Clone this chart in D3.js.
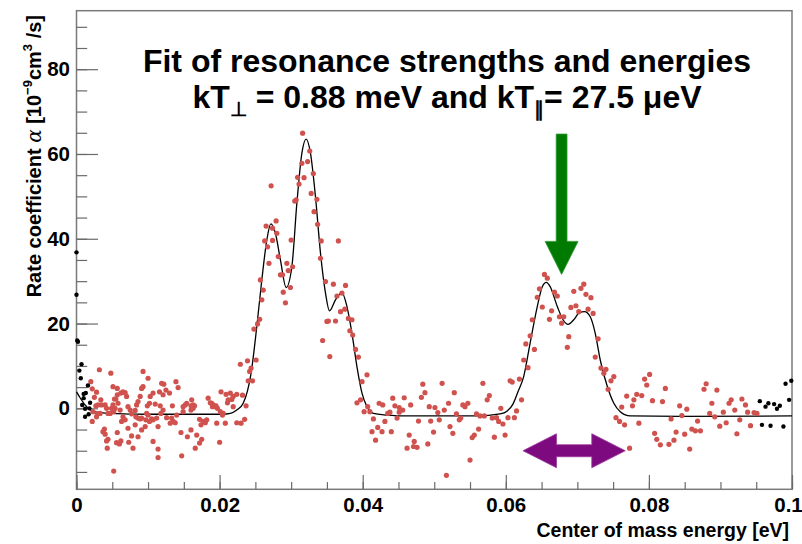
<!DOCTYPE html>
<html><head><meta charset="utf-8">
<script src="https://cdn.jsdelivr.net/npm/d3@7/dist/d3.min.js"></script>
<style>
html,body{margin:0;padding:0;background:#fff;}
svg{display:block;}
text{font-family:"Liberation Sans",Arial,Helvetica,sans-serif;font-weight:bold;fill:#000;}
</style></head>
<body>
<script>
// ---------- data ----------
const xTickValues = [0, 0.02, 0.04, 0.06, 0.08, 0.1];
const xTickLabels = ["0", "0.02", "0.04", "0.06", "0.08", "0.1"];
const yTickValues = [0, 20, 40, 60, 80];
const yTickLabels = ["0", "20", "40", "60", "80"];
const xDomain = [0, 0.1];
const yDomain = [-19.1, 93.8];

const titleLine1 = "Fit of resonance strengths and energies";
const xTitle = "Center of mass energy [eV]";

// fit curve (energy [eV], rate coefficient)
const fitE = [0.0000,0.0005,0.0012,0.0024,0.0047,0.0103,0.0173,0.0204,0.0215,0.0224,0.0233,0.0244,0.0252,0.0259,0.0266,0.02716,0.0278,0.0285,0.0293,0.0301,0.0308,0.0315,0.0321,0.0327,0.0334,0.0341,0.0348,0.03536,0.0362,0.0371,0.0378,0.0385,0.0392,0.0399,0.0406,0.0415,0.0434,0.0452,0.0560,0.0592,0.0602,0.0610,0.0617,0.0625,0.0634,0.0644,0.0651,0.06566,0.0662,0.0672,0.0680,0.0687,0.0695,0.0703,0.0710,0.0718,0.0725,0.0732,0.0742,0.0751,0.0760,0.0774,0.0844,0.1000];
const fitA = [3.9,2.5,0.8,-0.8,-1.2,-1.4,-1.4,-1.4,-1.2,-0.4,1.2,8.3,19.3,30.3,39.7,43.5,41.3,35.0,28.5,33.4,48.4,60.2,63.5,60.2,49.9,36.6,27.2,23.0,25.6,27.3,24.0,17.7,9.8,3.6,0.4,-1.2,-1.6,-1.8,-1.8,-1.3,-0.6,1.0,3.9,7.5,15.4,24.0,28.7,29.7,28.7,24.0,20.9,19.8,20.9,22.6,22.8,21.6,17.7,11.4,5.1,1.2,-0.8,-1.8,-1.9,-1.8];

// measured points outside the fit range (black)
const blackE = [0.0000,0.0000,0.0001,0.0002,0.0007,0.0004,0.0006,0.0016,0.0013,0.0010,0.0008,0.0019,0.0012,0.0018,0.0012,0.0017,0.0010,0.0955,0.0963,0.0967,0.0975,0.0983,0.0979,0.0958,0.0970,0.0988,0.0996,0.0991,0.0999];
const blackA = [36.8,26.8,16.0,15.7,10.4,8.9,7.1,5.4,3.6,2.4,0.8,1.3,-0.1,0.0,-2.0,-1.4,3.4,1.7,0.4,1.2,1.0,0.6,-0.1,-3.9,-4.1,-4.3,2.0,5.8,6.5];

// measured points used in fit (red): [energy, rate]
const redPoints = [
[0.0020,6.3],[0.0032,9.1],[0.0022,4.6],[0.0028,3.8],[0.0025,2.6],[0.0027,0.6],[0.0030,0.8],[0.0023,-0.8],[0.0029,-1.3],[0.0033,-1.2],[0.0022,-3.1],[0.0028,-2.0],[0.0035,0.8],[0.0034,2.0],[0.0037,-5.5],[0.0039,-4.9],[0.0040,-6.1],[0.0044,-7.3],[0.0042,-7.7],[0.0043,-9.4],[0.0052,-14.8],[0.0040,0.8],[0.0042,0.0],[0.0044,-1.2],[0.0047,-1.2],[0.0049,0.0],[0.0051,0.8],[0.0048,8.3],[0.0051,5.1],[0.0053,2.2],[0.0055,2.2],[0.0057,4.7],[0.0057,3.2],[0.0058,1.2],[0.0061,-0.4],[0.0054,0.0],[0.0052,-0.8],[0.0057,-5.7],[0.0056,-8.1],[0.0062,-7.7],[0.0060,-8.4],[0.0062,3.6],[0.0065,3.9],[0.0068,3.7],[0.0070,2.8],[0.0068,-2.7],[0.0065,-2.0],[0.0063,-3.1],[0.0072,-4.7],[0.0073,-8.0],[0.0077,-6.5],[0.0079,-9.4],[0.0072,0.4],[0.0075,-0.4],[0.0077,-1.3],[0.0082,-3.9],[0.0082,-0.5],[0.0084,0.8],[0.0086,1.6],[0.0089,2.8],[0.0091,4.7],[0.0093,5.1],[0.0093,8.7],[0.0083,-2.0],[0.0086,-2.3],[0.0091,-2.3],[0.0089,-2.5],[0.0096,-4.3],[0.0091,-5.1],[0.0086,-6.7],[0.0100,7.1],[0.0098,-1.2],[0.0097,-2.7],[0.0099,0.6],[0.0100,-1.6],[0.0102,1.2],[0.0102,-3.1],[0.0103,2.8],[0.0105,-2.5],[0.0107,3.6],[0.0107,-2.7],[0.0107,-7.8],[0.0110,1.0],[0.0112,-2.3],[0.0114,-4.3],[0.0114,-9.6],[0.0114,-11.6],[0.0116,3.9],[0.0117,0.6],[0.0118,-1.2],[0.0119,5.9],[0.0121,-0.4],[0.0121,3.2],[0.0122,5.7],[0.0125,4.3],[0.0126,-2.2],[0.0130,3.6],[0.0131,-3.5],[0.0133,-2.3],[0.0134,0.6],[0.0135,-3.1],[0.0138,-3.4],[0.0139,6.3],[0.0140,-1.6],[0.0142,4.9],[0.0146,-5.7],[0.0147,-11.2],[0.0149,-0.8],[0.0149,0.4],[0.0152,0.8],[0.0154,1.2],[0.0155,-6.7],[0.0160,-0.4],[0.0160,-5.1],[0.0160,0.6],[0.0161,2.0],[0.0163,0.0],[0.0163,0.8],[0.0165,0.6],[0.0166,-9.4],[0.0168,-6.3],[0.0172,-8.2],[0.0172,-2.6],[0.0174,-3.9],[0.0175,-7.3],[0.0177,-3.1],[0.0180,-3.4],[0.0182,-2.7],[0.0184,2.4],[0.0187,1.3],[0.0189,1.2],[0.0190,0.4],[0.0191,0.8],[0.0194,0.4],[0.0195,0.6],[0.0196,-3.5],[0.0197,0.0],[0.0200,-8.0],[0.0201,-0.8],[0.0202,3.9],[0.0204,-1.6],[0.0205,-1.2],[0.0208,-3.5],[0.0209,3.3],[0.0211,1.3],[0.0212,2.0],
[0.0316,64.9],[0.0326,60.7],[0.0323,58.2],[0.0315,57.8],[0.0309,54.5],[0.0318,54.4],[0.0331,55.4],[0.0311,52.9],[0.0272,52.5],[0.0328,50.7],[0.0336,49.3],[0.0307,49.2],[0.0305,48.9],[0.0332,46.4],[0.0337,43.4],[0.0279,44.2],[0.0265,43.0],[0.0274,42.5],[0.0280,41.3],[0.0263,39.5],[0.0267,38.1],[0.0274,39.6],[0.0300,39.7],[0.0366,39.5],[0.0342,39.5],[0.0282,35.8],[0.0269,34.2],[0.0294,34.2],[0.0302,33.4],[0.0296,32.5],[0.0341,35.4],[0.0285,31.5],[0.0288,31.5],[0.0257,30.3],[0.0348,29.9],[0.0359,29.3],[0.0376,29.0],[0.0299,28.5],[0.0261,27.9],[0.0289,27.4],[0.0364,26.5],[0.0259,25.6],[0.0292,24.9],[0.0371,27.2],[0.0375,23.4],[0.0369,22.8],[0.0256,21.0],[0.0253,19.9],[0.0248,18.7],[0.0380,21.2],[0.0385,20.9],[0.0350,20.5],[0.0352,20.6],[0.0362,20.6],[0.0382,18.3],[0.0386,17.3],[0.0344,16.0],[0.0390,13.9],[0.0394,12.1],[0.0354,12.2],[0.0251,11.4],[0.0239,11.2],[0.0229,10.4],[0.0244,9.5],[0.0242,8.7],[0.0240,6.5],[0.0246,6.5],[0.0215,3.6],[0.0224,3.3],[0.0232,3.1],[0.0219,2.8],[0.0217,2.1],[0.0392,1.3],[0.0219,0.4],[0.0237,0.6],[0.0224,-3.4],[0.0230,-3.5],[0.0235,-2.6],
[0.0406,7.9],[0.0399,6.3],[0.0484,5.7],[0.0511,5.9],[0.0487,3.7],[0.0528,3.7],[0.0442,2.4],[0.0458,2.5],[0.0482,2.6],[0.0423,1.2],[0.0428,0.8],[0.0445,0.6],[0.0467,0.8],[0.0520,1.2],[0.0547,1.2],[0.0540,0.8],[0.0543,0.4],[0.0407,0.4],[0.0397,2.0],[0.0402,-0.8],[0.0410,-0.8],[0.0435,-1.2],[0.0438,-0.9],[0.0451,-0.9],[0.0456,-0.4],[0.0451,0.2],[0.0493,0.4],[0.0501,0.2],[0.0505,-1.0],[0.0514,-0.4],[0.0531,-1.3],[0.0559,-1.3],[0.0415,-2.5],[0.0431,-3.1],[0.0448,-2.3],[0.0478,-3.0],[0.0495,-3.0],[0.0507,-2.7],[0.0535,-2.7],[0.0537,-2.3],[0.0421,-4.5],[0.0413,-5.5],[0.0427,-5.5],[0.0440,-5.5],[0.0499,-5.6],[0.0522,-4.3],[0.0526,-5.9],[0.0562,-4.9],[0.0556,-6.3],[0.0553,-6.9],[0.0418,-7.5],[0.0465,-6.3],[0.0472,-7.8],[0.0462,-9.4],[0.0471,-9.0],[0.0476,-9.2],[0.0491,-8.4],[0.0550,-12.2],[0.0517,-15.8],
[0.0654,31.6],[0.0658,30.7],[0.0647,28.2],[0.0668,27.4],[0.0672,26.5],[0.0644,26.2],[0.0651,23.9],[0.0664,23.0],[0.0661,21.0],[0.0675,21.6],[0.0678,20.1],[0.0681,21.6],[0.0695,27.6],[0.0705,28.3],[0.0709,29.3],[0.0712,26.9],[0.0719,26.1],[0.0691,23.8],[0.0698,24.2],[0.0702,22.8],[0.0715,23.4],[0.0722,22.4],[0.0688,16.9],[0.0686,14.4],[0.0637,20.9],[0.0634,17.1],[0.0640,13.9],[0.0628,15.2],[0.0625,11.4],[0.0631,9.6],[0.0619,6.9],[0.0622,2.0],[0.0606,6.5],[0.0609,6.2],[0.0577,3.0],[0.0574,2.0],[0.0568,5.9],[0.0593,0.0],[0.0615,-0.6],[0.0564,-1.8],[0.0570,-1.8],[0.0581,-2.3],[0.0587,-2.2],[0.0590,-3.1],[0.0596,-3.7],[0.0603,-2.2],[0.0612,-2.2],[0.0584,-6.8],[0.0599,-6.3],[0.0729,16.4],[0.0725,12.1],[0.0733,9.5],[0.0740,9.2],[0.0737,8.3],[0.0751,7.5],[0.0747,6.5],[0.0743,4.5],[0.0769,2.9],[0.0783,3.3],[0.0790,3.0],[0.0779,2.0],[0.0777,0.6],[0.0794,6.9],[0.0801,8.0],[0.0797,5.5],[0.0805,1.8],[0.0762,0.3],[0.0754,-2.2],[0.0759,-3.1],[0.0766,-3.9],[0.0786,-3.5],[0.0808,-5.9],[0.0811,-7.3],[0.0773,-9.4],
[0.0823,4.7],[0.0819,1.6],[0.0880,5.8],[0.0877,4.5],[0.0895,4.3],[0.0888,1.2],[0.0915,2.0],[0.0912,1.2],[0.0930,2.2],[0.0935,0.8],[0.0843,0.6],[0.0853,-0.2],[0.0846,-1.7],[0.0885,-1.2],[0.0892,-2.0],[0.0904,-0.9],[0.0920,-0.4],[0.0938,-0.9],[0.0947,-1.0],[0.0951,-1.2],[0.0831,-2.5],[0.0868,-3.0],[0.0927,-2.7],[0.0908,-3.4],[0.0899,-4.2],[0.0942,-4.1],[0.0860,-4.9],[0.0865,-5.3],[0.0872,-5.3],[0.0838,-5.6],[0.0850,-6.1],[0.0923,-6.0],[0.0835,-7.5],[0.0816,-8.6],[0.0828,-8.5],[0.0857,-9.6]
];

// annotation anchors (data units)
const greenArrow = {e: 0.0678, top: 64.7, tip: 31.6};
const purpleArrow = {e1: 0.0624, e2: 0.0767, a: -10.0};

// ---------- layout ----------
const W = 802, H = 544;
const plot = {left: 76.5, right: 792, top: 10.7, bottom: 489.3};

const svg = d3.select("body").append("svg").attr("width", W).attr("height", H);

const x = d3.scaleLinear().domain(xDomain).range([plot.left, plot.right]);
const y = d3.scaleLinear().domain(yDomain).range([plot.bottom, plot.top]);

const axisColor = "#6a6a6a";

// frame
svg.append("rect")
  .attr("x", plot.left).attr("y", plot.top)
  .attr("width", plot.right - plot.left).attr("height", plot.bottom - plot.top)
  .attr("fill", "none").attr("stroke", "#7a7a7a").attr("stroke-width", 1.5);

// x axis minor
const xMinor = d3.range(0, 0.1001, 0.005);
const gxm = svg.append("g").attr("transform", `translate(0,${plot.bottom})`)
  .call(d3.axisBottom(x).tickValues(xMinor).tickSizeInner(-7.2).tickSizeOuter(0).tickFormat(""));
// x axis major
const gx = svg.append("g").attr("transform", `translate(0,${plot.bottom})`)
  .call(d3.axisBottom(x).tickValues(xTickValues).tickSizeInner(-14.4).tickSizeOuter(0).tickPadding(8)
    .tickFormat((d, i) => xTickLabels[i]));
// y axis minor
const yMinor = d3.range(-15, 91, 5);
const gym = svg.append("g").attr("transform", `translate(${plot.left},0)`)
  .call(d3.axisLeft(y).tickValues(yMinor).tickSizeInner(-10.7).tickSizeOuter(0).tickFormat(""));
const gy = svg.append("g").attr("transform", `translate(${plot.left},0)`)
  .call(d3.axisLeft(y).tickValues(yTickValues).tickSizeInner(-21.5).tickSizeOuter(0).tickPadding(6.5)
    .tickFormat((d, i) => yTickLabels[i]));

[gxm, gx, gym, gy].forEach(g => {
  g.select(".domain").remove();
  g.selectAll(".tick line").attr("stroke", axisColor).attr("stroke-width", 1.2);
  g.selectAll(".tick text").attr("fill", "#000").style("font-size", "20.5px")
    .style("font-family", '"Liberation Sans",Arial,sans-serif').style("font-weight", "bold");
});
gx.selectAll(".tick text").filter((d) => d === 0.1).attr("dx", "-4");

// fit curve
const line = d3.line().x(d => x(d[0])).y(d => y(d[1])).curve(d3.curveMonotoneX);
svg.append("path").datum(fitE.map((e, i) => [e, fitA[i]]))
  .attr("d", line).attr("fill", "none").attr("stroke", "#000").attr("stroke-width", 1.3);

// red points
svg.append("g").selectAll("circle").data(redPoints).join("circle")
  .attr("cx", d => x(d[0])).attr("cy", d => y(d[1])).attr("r", 2.6).attr("fill", "#d0524e");
// black points
svg.append("g").selectAll("circle").data(blackE.map((e, i) => [e, blackA[i]])).join("circle")
  .attr("cx", d => x(d[0])).attr("cy", d => y(d[1])).attr("r", 2.2).attr("fill", "#000");

// green arrow
{
  const cx = x(greenArrow.e), yt = y(greenArrow.top), ytip = y(greenArrow.tip);
  const headLen = 33, shaftHalf = 5.4, headHalf = 16.5;
  const yb = ytip - headLen;
  const pts = [[cx - shaftHalf, yt], [cx + shaftHalf, yt], [cx + shaftHalf, yb], [cx + headHalf, yb],
    [cx, ytip], [cx - headHalf, yb], [cx - shaftHalf, yb]];
  svg.append("path").attr("d", "M" + pts.map(p => p.join(",")).join("L") + "Z")
    .attr("fill", "#007a00").attr("stroke", "#2e9a2e").attr("stroke-width", 0.8);
}
// purple double arrow
{
  const x1 = x(purpleArrow.e1), x2 = x(purpleArrow.e2), cy = y(purpleArrow.a);
  const headLen = 33.5, shaftHalf = 6, headHalf = 17;
  const pts = [[x1, cy], [x1 + headLen, cy - headHalf], [x1 + headLen, cy - shaftHalf], [x2 - headLen, cy - shaftHalf],
    [x2 - headLen, cy - headHalf], [x2, cy], [x2 - headLen, cy + headHalf], [x2 - headLen, cy + shaftHalf],
    [x1 + headLen, cy + shaftHalf], [x1 + headLen, cy + headHalf]];
  svg.append("path").attr("d", "M" + pts.map(p => p.join(",")).join("L") + "Z")
    .attr("fill", "#7e0a80").attr("stroke", "#9a3a9c").attr("stroke-width", 0.8);
}

// titles
svg.append("text").attr("x", 447).attr("y", 72).attr("text-anchor", "middle")
  .style("font-size", "32px").text(titleLine1);
{
  const t = svg.append("text").attr("x", 447).attr("y", 108).attr("text-anchor", "middle").style("font-size", "32px");
  t.append("tspan").text("kT");
  t.append("tspan").attr("dy", 8).style("font-size", "20px").text("⊥");
  t.append("tspan").attr("dy", -8).text(" = 0.88 meV and kT");
  t.append("tspan").attr("dy", 8).style("font-size", "20px").text("∥");
  t.append("tspan").attr("dy", -8).text("= 27.5 μeV");
}

// x title
svg.append("text").attr("x", 789).attr("y", 537).attr("text-anchor", "end")
  .style("font-size", "19.5px").text(xTitle);

// y title
{
  const t = svg.append("text").attr("transform", "translate(41,15) rotate(-90)")
    .attr("text-anchor", "end").style("font-size", "20px");
  t.append("tspan").text("Rate coefficient ");
  t.append("tspan").style("font-weight", "normal").style("font-family", '"DejaVu Serif",serif').style("font-style", "italic").text("α");
  t.append("tspan").text("  [10");
  t.append("tspan").attr("dy", -9).style("font-size", "13px").text("−9");
  t.append("tspan").attr("dy", 9).text("cm");
  t.append("tspan").attr("dy", -9).style("font-size", "13px").text("3");
  t.append("tspan").attr("dy", 9).text(" /s]");
}
</script>
</body></html>
